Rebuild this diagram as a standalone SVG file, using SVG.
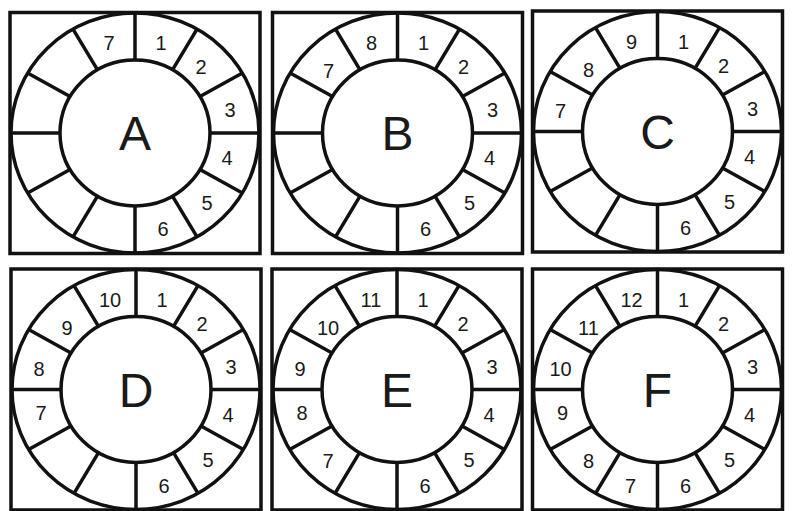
<svg xmlns="http://www.w3.org/2000/svg" xmlns:xlink="http://www.w3.org/1999/xlink" width="792" height="511" viewBox="0 0 792 511">
<style>
.box{fill:#fff;stroke:#111;stroke-width:3.5}
.ring{fill:none;stroke:#111;stroke-width:3.5}
.num{font-family:"Liberation Sans",Arial,sans-serif;font-size:20px;fill:#1a1a1a;text-anchor:middle}
.big{font-family:"Liberation Sans",Arial,sans-serif;font-size:48px;fill:#1a1a1a;text-anchor:middle}
</style>
<defs>
<g id="wheel">
<rect class="box" x="-125" y="-120.5" width="250" height="241"/>
<ellipse class="ring" cx="0" cy="0" rx="124" ry="120"/>
<ellipse class="ring" cx="0" cy="0" rx="75" ry="73"/>
<path class="ring" d="M75,0H124M-75,0H-124M0,-73V-120M0,73V120M64.95,-36.5L107.39,-60M-64.95,-36.5L-107.39,-60M64.95,36.5L107.39,60M-64.95,36.5L-107.39,60M37.5,-63.22L62,-103.92M-37.5,-63.22L-62,-103.92M37.5,63.22L62,103.92M-37.5,63.22L-62,103.92"/>
</g>
</defs>
<g id="panelA">
<use xlink:href="#wheel" href="#wheel" transform="translate(135,133)"/>
<text class="num" x="161" y="50">1</text><text class="num" x="201" y="74">2</text><text class="num" x="230" y="117">3</text><text class="num" x="227" y="165">4</text><text class="num" x="207" y="210">5</text><text class="num" x="163" y="236">6</text><text class="num" x="109" y="50">7</text>
<text class="big" x="135" y="150">A</text>
</g>
<g id="panelB">
<use xlink:href="#wheel" href="#wheel" transform="translate(397.5,133)"/>
<text class="num" x="423.5" y="50">1</text><text class="num" x="463.5" y="74">2</text><text class="num" x="492.5" y="117">3</text><text class="num" x="489.5" y="165">4</text><text class="num" x="469.5" y="210">5</text><text class="num" x="425.5" y="236">6</text><text class="num" x="328.5" y="78">7</text><text class="num" x="371.5" y="50">8</text>
<text class="big" x="397.5" y="150">B</text>
</g>
<g id="panelC">
<use xlink:href="#wheel" href="#wheel" transform="translate(657.5,131.5)"/>
<text class="num" x="683.5" y="48.5">1</text><text class="num" x="723.5" y="72.5">2</text><text class="num" x="752.5" y="115.5">3</text><text class="num" x="749.5" y="163.5">4</text><text class="num" x="729.5" y="208.5">5</text><text class="num" x="685.5" y="234.5">6</text><text class="num" x="560.5" y="117.5">7</text><text class="num" x="588.5" y="76.5">8</text><text class="num" x="631.5" y="48.5">9</text>
<text class="big" x="657.5" y="148.5">C</text>
</g>
<g id="panelD">
<use xlink:href="#wheel" href="#wheel" transform="translate(136,389.5)"/>
<text class="num" x="162" y="306.5">1</text><text class="num" x="202" y="330.5">2</text><text class="num" x="231" y="373.5">3</text><text class="num" x="228" y="421.5">4</text><text class="num" x="208" y="466.5">5</text><text class="num" x="164" y="492.5">6</text><text class="num" x="41" y="419.5">7</text><text class="num" x="39" y="375.5">8</text><text class="num" x="67" y="334.5">9</text><text class="num" x="110" y="306.5">10</text>
<text class="big" x="136" y="406.5">D</text>
</g>
<g id="panelE">
<use xlink:href="#wheel" href="#wheel" transform="translate(397,389.5)"/>
<text class="num" x="423" y="306.5">1</text><text class="num" x="463" y="330.5">2</text><text class="num" x="492" y="373.5">3</text><text class="num" x="489" y="421.5">4</text><text class="num" x="469" y="466.5">5</text><text class="num" x="425" y="492.5">6</text><text class="num" x="328" y="467.5">7</text><text class="num" x="302" y="419.5">8</text><text class="num" x="300" y="375.5">9</text><text class="num" x="328" y="334.5">10</text><text class="num" x="371" y="306.5">11</text>
<text class="big" x="397" y="406.5">E</text>
</g>
<g id="panelF">
<use xlink:href="#wheel" href="#wheel" transform="translate(657.5,389.5)"/>
<text class="num" x="683.5" y="306.5">1</text><text class="num" x="723.5" y="330.5">2</text><text class="num" x="752.5" y="373.5">3</text><text class="num" x="749.5" y="421.5">4</text><text class="num" x="729.5" y="466.5">5</text><text class="num" x="685.5" y="492.5">6</text><text class="num" x="630.5" y="492.5">7</text><text class="num" x="588.5" y="467.5">8</text><text class="num" x="562.5" y="419.5">9</text><text class="num" x="560.5" y="375.5">10</text><text class="num" x="588.5" y="334.5">11</text><text class="num" x="631.5" y="306.5">12</text>
<text class="big" x="657.5" y="406.5">F</text>
</g>
</svg>
